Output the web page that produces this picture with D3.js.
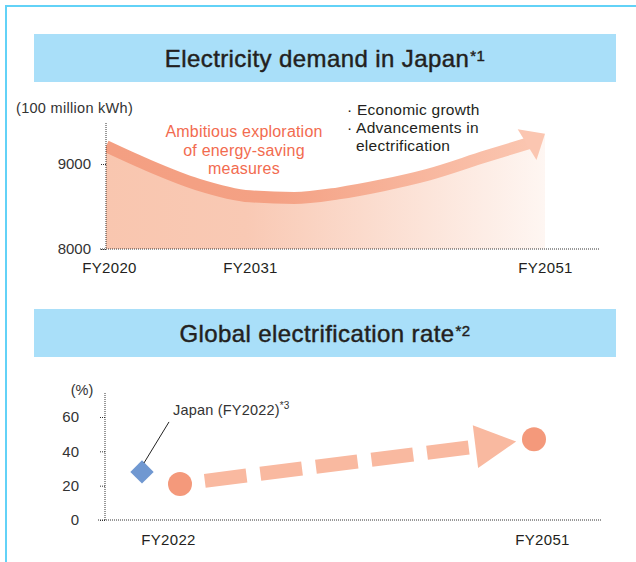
<!DOCTYPE html>
<html>
<head>
<meta charset="utf-8">
<script src="https://cdn.jsdelivr.net/npm/d3@7"></script>
<style>
    body { margin: 0; background: #fff; }
    svg text { font-family: "Liberation Sans", Arial, Helvetica, sans-serif; }
</style>
</head>
<body>
<svg id="chart" width="636" height="562"></svg>
<script>
// electricity demand in Japan (100 million kWh)
var demandYears = [2020, 2023, 2027, 2031, 2034, 2037, 2040, 2043, 2047, 2050];
var demandValues = [9210, 9000, 8760, 8620, 8600, 8655, 8750, 8870, 9090, 9250];
var demandTip = {year: 2051, value: 9356};
var demandTicks = [8000, 9000];
var demandLabelYears = [2020, 2031, 2051];
var demandLabels = ["FY2020", "FY2031", "FY2051"];

// global electrification rate (%)
var rateYears = [2022, 2051];
var rateValues = [21, 47];
var rateLabels = ["FY2022", "FY2051"];
var rateTicks = [0, 20, 40, 60];
var japanRate = 28;

var svg = d3.select("#chart");
var defs = svg.append("defs");

// light blue frame
svg.append("path")
        .attr("d", "M6,562V6H636")
        .attr("fill", "none")
        .attr("stroke", "#62d2f7")
        .attr("stroke-width", 2);

function titleBar(y, text, sup)
{
    svg.append("rect")
            .attr("x", 34).attr("y", y)
            .attr("width", 582).attr("height", 48)
            .attr("fill", "#a9dff9");
    var t = svg.append("text")
            .attr("x", 325).attr("y", y + 33)
            .attr("text-anchor", "middle")
            .attr("font-size", 24)
            .attr("letter-spacing", 0.4)
            .attr("fill", "#231f20")
            .attr("stroke", "#231f20")
            .attr("stroke-width", 0.45);
    t.append("tspan").text(text);
    t.append("tspan").attr("dy", -6).attr("dx", 1).attr("font-size", 15).text(sup);
}

titleBar(34, "Electricity demand in Japan", "*1");
titleBar(309, "Global electrification rate", "*2");

function dotted(sel)
{
    return sel.attr("stroke", "#333").attr("stroke-width", 1).attr("stroke-dasharray", "1,1");
}

/* ---------- chart 1 ---------- */
var x1 = d3.scaleLinear().domain([2020, 2031, 2051]).range([106, 250, 545]);
var y1 = d3.scaleLinear().domain([8000, 9000]).range([249, 164]);

var demand = demandYears.map(function (yr, i) {
    return {year: yr, value: demandValues[i]};
});

var fillGrad = defs.append("linearGradient").attr("id", "fillGrad")
        .attr("gradientUnits", "userSpaceOnUse")
        .attr("x1", x1(2020)).attr("x2", x1(2051)).attr("y1", 0).attr("y2", 0);
fillGrad.append("stop").attr("offset", 0).attr("stop-color", "#f9c6af");
fillGrad.append("stop").attr("offset", 0.32).attr("stop-color", "#f9c9b4");
fillGrad.append("stop").attr("offset", 1).attr("stop-color", "#fef6f2");

var bandGrad = defs.append("linearGradient").attr("id", "bandGrad")
        .attr("gradientUnits", "userSpaceOnUse")
        .attr("x1", x1(2020)).attr("x2", x1(2051)).attr("y1", 0).attr("y2", 0);
bandGrad.append("stop").attr("offset", 0).attr("stop-color", "#f49f82");
bandGrad.append("stop").attr("offset", 0.38).attr("stop-color", "#f4a184");
bandGrad.append("stop").attr("offset", 1).attr("stop-color", "#fbc8b3");

defs.append("clipPath").attr("id", "clip1")
        .append("rect")
        .attr("x", x1(2020)).attr("y", 100)
        .attr("width", x1(2051) - x1(2020)).attr("height", 160);

var area = d3.area()
        .x(function (d) { return x1(d.year); })
        .y0(y1(8000))
        .y1(function (d) { return y1(d.value); })
        .curve(d3.curveMonotoneX);

var line = d3.line()
        .x(function (d) { return x1(d.year); })
        .y(function (d) { return y1(d.value); })
        .curve(d3.curveMonotoneX);

svg.append("path")
        .datum(demand.concat([demandTip]))
        .attr("d", area)
        .attr("fill", "url(#fillGrad)")
        .attr("clip-path", "url(#clip1)");

svg.append("path")
        .datum(demand)
        .attr("d", line)
        .attr("fill", "none")
        .attr("stroke", "url(#bandGrad)")
        .attr("stroke-width", 12)
        .attr("clip-path", "url(#clip1)");

// arrow head on the demand curve
var last = demand[demand.length - 1];
var px = x1(last.year), py = y1(last.value);
var tx = x1(demandTip.year), ty = y1(demandTip.value);
var len = Math.hypot(tx - px, ty - py);
var ux = (tx - px) / len, uy = (ty - py) / len;
var bx = tx - ux * 21, by = ty - uy * 21;
svg.append("path")
        .attr("d", "M" + tx + "," + ty
                + "L" + (bx - uy * 18) + "," + (by + ux * 18)
                + "L" + (bx + uy * 18) + "," + (by - ux * 18) + "Z")
        .attr("fill", "#fbc6b1");

// axes
dotted(svg.append("line").attr("x1", 106).attr("x2", 106).attr("y1", 123).attr("y2", y1(8000)));
dotted(svg.append("line").attr("x1", 100).attr("x2", 600).attr("y1", y1(8000)).attr("y2", y1(8000)));

var ax1 = svg.append("g")
        .attr("transform", "translate(106,0)")
        .call(d3.axisLeft(y1).tickValues(demandTicks).tickSize(6).tickPadding(9).tickFormat(d3.format("d")));
ax1.select(".domain").remove();
dotted(ax1.selectAll(".tick line"));
ax1.selectAll("text").attr("font-size", 15).attr("fill", "#333");

var bx1 = svg.append("g")
        .attr("transform", "translate(0," + y1(8000) + ")")
        .call(d3.axisBottom(x1).tickValues(demandLabelYears).tickSize(0).tickPadding(13)
                .tickFormat(function (d, i) { return demandLabels[i]; }));
bx1.select(".domain").remove();
bx1.selectAll("text").attr("font-size", 15).attr("letter-spacing", 0.3).attr("fill", "#231f20");
bx1.selectAll("text").filter(function (d, i) { return i === 0; }).attr("dx", 3);

svg.append("text")
        .attr("x", 16).attr("y", 113)
        .attr("font-size", 14.5).attr("letter-spacing", 0.3)
        .attr("fill", "#333")
        .text("(100 million kWh)");

var note1 = svg.append("text")
        .attr("text-anchor", "middle")
        .attr("font-size", 16).attr("letter-spacing", 0.2)
        .attr("fill", "#f26b4f");
["Ambitious exploration", "of energy-saving", "measures"].forEach(function (s, i) {
    note1.append("tspan").attr("x", 244).attr("y", 137 + i * 18.5).text(s);
});

var note2 = svg.append("text")
        .attr("font-size", 15.5).attr("letter-spacing", 0.25)
        .attr("fill", "#231f20");
note2.append("tspan").attr("x", 347).attr("y", 115).text("\u00b7 Economic growth");
note2.append("tspan").attr("x", 347).attr("y", 133).text("\u00b7 Advancements in");
note2.append("tspan").attr("x", 356).attr("y", 151).text("electrification");

/* ---------- chart 2 ---------- */
var x2 = d3.scaleLinear().domain([2022, 2051]).range([180, 534]);
var y2 = d3.scaleLinear().domain([0, 60]).range([520, 417]);

dotted(svg.append("line").attr("x1", 105).attr("x2", 105).attr("y1", 393).attr("y2", y2(0)));
dotted(svg.append("line").attr("x1", 98).attr("x2", 602).attr("y1", y2(0)).attr("y2", y2(0)));

var ax2 = svg.append("g")
        .attr("transform", "translate(105,0)")
        .call(d3.axisLeft(y2).tickValues(rateTicks).tickSize(6).tickPadding(20));
ax2.select(".domain").remove();
dotted(ax2.selectAll(".tick line"));
ax2.selectAll("text").attr("font-size", 15).attr("fill", "#333");

var bx2 = svg.append("g")
        .attr("transform", "translate(0," + y2(0) + ")")
        .call(d3.axisBottom(x2).tickValues(rateYears).tickSize(0).tickPadding(14)
                .tickFormat(function (d, i) { return rateLabels[i]; }));
bx2.select(".domain").remove();
bx2.selectAll("text").attr("font-size", 15).attr("letter-spacing", 0.3).attr("fill", "#231f20")
        .attr("dx", function (d, i) { return i === 0 ? -12 : 8; });

svg.append("text")
        .attr("x", 82).attr("y", 395)
        .attr("text-anchor", "middle")
        .attr("font-size", 14.5)
        .attr("fill", "#333")
        .text("(%)");

// dashed arrow between the two points
var p0 = [x2(rateYears[0]), y2(rateValues[0])];
var p1 = [x2(rateYears[1]), y2(rateValues[1])];
var dl = Math.hypot(p1[0] - p0[0], p1[1] - p0[1]);
var dx = (p1[0] - p0[0]) / dl, dy = (p1[1] - p0[1]) / dl;
var s0 = [p0[0] + dx * 25, p0[1] + dy * 25];
var tip = [p1[0] - dx * 18, p1[1] - dy * 18];
var hb = [tip[0] - dx * 41, tip[1] - dy * 41];

svg.append("line")
        .attr("x1", s0[0]).attr("y1", s0[1])
        .attr("x2", hb[0]).attr("y2", hb[1])
        .attr("stroke", "#f9b9a0")
        .attr("stroke-width", 14)
        .attr("stroke-dasharray", "42,14");

svg.append("path")
        .attr("d", "M" + tip[0] + "," + tip[1]
                + "L" + (hb[0] - dy * 21.5) + "," + (hb[1] + dx * 21.5)
                + "L" + (hb[0] + dy * 21.5) + "," + (hb[1] - dx * 21.5) + "Z")
        .attr("fill", "#f9b9a0");

svg.selectAll(".rate-dot")
        .data(rateYears)
        .enter()
        .append("circle")
        .attr("class", "rate-dot")
        .attr("cx", function (d) { return x2(d); })
        .attr("cy", function (d, i) { return y2(rateValues[i]); })
        .attr("r", 12)
        .attr("fill", "#f4997b");

// Japan marker, drawn just left of the FY2022 point
var jx = x2(rateYears[0]) - 38, jy = y2(japanRate);
svg.append("path")
        .attr("d", d3.symbol(d3.symbolSquare, 272)())
        .attr("transform", "translate(" + jx + "," + jy + ") rotate(45)")
        .attr("fill", "#7098d1");

svg.append("line")
        .attr("x1", jx + 2).attr("y1", jy - 9)
        .attr("x2", jx + 27).attr("y2", jy - 50)
        .attr("stroke", "#222")
        .attr("stroke-width", 1);

var jt = svg.append("text")
        .attr("x", jx + 31).attr("y", jy - 57)
        .attr("font-size", 14.5).attr("letter-spacing", 0.2)
        .attr("fill", "#333");
jt.append("tspan").text("Japan (FY2022)");
jt.append("tspan").attr("dy", -6).attr("font-size", 10).text("*3");
</script>
</body>
</html>
